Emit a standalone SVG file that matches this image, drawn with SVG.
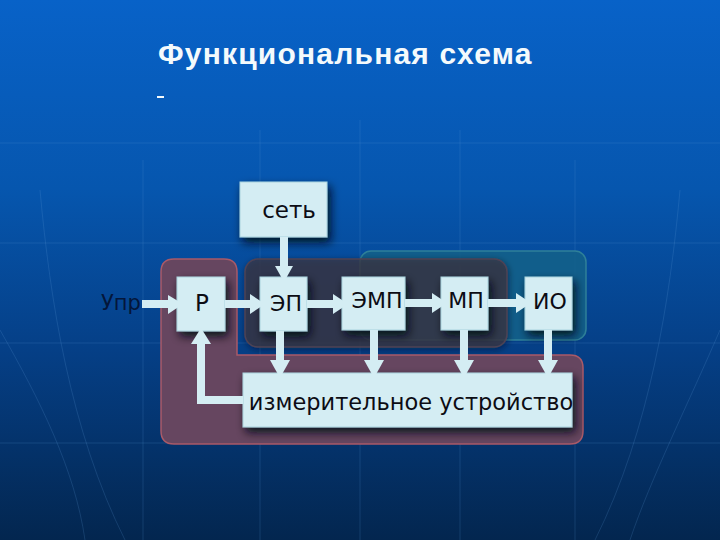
<svg xmlns="http://www.w3.org/2000/svg" width="720" height="540" viewBox="0 0 720 540">
<style>
.box{fill:#d4edf3;stroke:#a9d3de;stroke-width:1;filter:url(#sh)}
.lab{font-family:"DejaVu Sans",sans-serif;font-size:22px;fill:#0c0c14;text-anchor:middle}
.grid{fill:none;stroke:#5f9bd8;stroke-opacity:.2;stroke-width:1}
.wire{fill:none;stroke:#d4edf3;stroke-width:8}
.head{fill:#d4edf3}
</style>
<defs>
<linearGradient id="bg" x1="0" y1="0" x2="0" y2="1">
<stop offset="0" stop-color="#0862c8"/><stop offset=".35" stop-color="#0656ae"/><stop offset=".65" stop-color="#053f86"/><stop offset="1" stop-color="#03264f"/>
</linearGradient>
<filter id="sh" x="-40%" y="-40%" width="190%" height="190%"><feDropShadow dx="3" dy="5" stdDeviation="5" flood-color="#030c18" flood-opacity=".9"/></filter>
<filter id="sh2" x="-15%" y="-15%" width="130%" height="130%"><feDropShadow dx="1" dy="2" stdDeviation="3" flood-color="#04101f" flood-opacity=".6"/></filter>
</defs>
<rect width="720" height="540" fill="url(#bg)"/>
<g class="grid">
<path d="M0 243H720M0 343H720M0 443H720M0 143H720"/>
<path d="M143 160V540M260 130V540M360 120V540M460 130V540M575 160V540"/>
<path d="M0 330C40 400 75 470 85 540M40 190C50 300 70 430 125 540M720 330C690 400 650 480 630 540M680 190C670 300 650 430 595 540"/>
</g>
<text x="158" y="64" font-family="'Liberation Sans',Arial,sans-serif" font-size="30" font-weight="700" letter-spacing="1.2" fill="#f4fafc">Функциональная схема</text>
<rect id="dash" x="157" y="96" width="7" height="2" fill="#f4fafc"/>
<g id="regions">
<rect x="360" y="251" width="226" height="89" rx="11" fill="#13618a" fill-opacity=".9" stroke="#2f8099" stroke-width="1.5"/>
<rect x="245" y="259" width="262" height="88" rx="13" fill="#3c3644" fill-opacity=".72" stroke="#4e4254" stroke-width="1.5" filter="url(#sh2)"/>
<path d="M174 259H224Q237 259 237 272V355H570Q583 355 583 368V431Q583 444 570 444H174Q161 444 161 431V272Q161 259 174 259Z" fill="#664660" stroke="#a95a68" stroke-width="1.5"/>
</g>
<g id="n-upr"><text x="121" y="310" font-family="'DejaVu Sans',sans-serif" font-size="21" fill="#04163a" text-anchor="middle">Упр</text></g>
<g id="n-set"><rect class="box" x="240" y="182" width="87" height="55"/><text class="lab" x="289" y="218" style="font-size:23px">сеть</text></g>
<g id="n-r"><rect class="box" x="177" y="277" width="48" height="54"/><text class="lab" x="202" y="311" style="font-size:23px">Р</text></g>
<g id="n-ep"><rect class="box" x="260" y="277" width="47" height="54"/><text class="lab" x="286" y="311">ЭП</text></g>
<g id="n-emp"><rect class="box" x="342" y="277" width="63" height="53"/><text class="lab" x="377" y="308">ЭМП</text></g>
<g id="n-mp"><rect class="box" x="441" y="277" width="47" height="53"/><text class="lab" x="466" y="308">МП</text></g>
<g id="n-io"><rect class="box" x="525" y="277" width="47" height="53"/><text class="lab" x="550" y="309">ИО</text></g>
<g id="n-meas"><rect class="box" x="243" y="373" width="329" height="54"/><text class="lab" x="411" y="410" style="font-size:22.5px">измерительное устройство</text></g>
<g id="connectors">
<path class="wire" d="M284 237V270"/><path class="head" d="M275 266H293L284 282Z"/>
<path class="wire" d="M142 304H172"/><path class="head" d="M168 295V314L183 304Z"/>
<path class="wire" d="M225 304H254"/><path class="head" d="M250 294V314L265 304Z"/>
<path class="wire" d="M307 304H337"/><path class="head" d="M333 294V314L348 304Z"/>
<path class="wire" d="M405 303H436"/><path class="head" d="M432 293V313L447 303Z"/>
<path class="wire" d="M488 303H520"/><path class="head" d="M516 293V313L531 303Z"/>
<path class="wire" d="M280 331V364"/><path class="head" d="M270 360H290L280 378Z"/>
<path class="wire" d="M374 330V364"/><path class="head" d="M364 360H384L374 378Z"/>
<path class="wire" d="M464 330V364"/><path class="head" d="M454 360H474L464 378Z"/>
<path class="wire" d="M548 330V364"/><path class="head" d="M538 360H558L548 378Z"/>
<path class="wire" d="M243 400H201V340"/><path class="head" d="M191 344H211L201 328Z"/>
</g>
</svg>
